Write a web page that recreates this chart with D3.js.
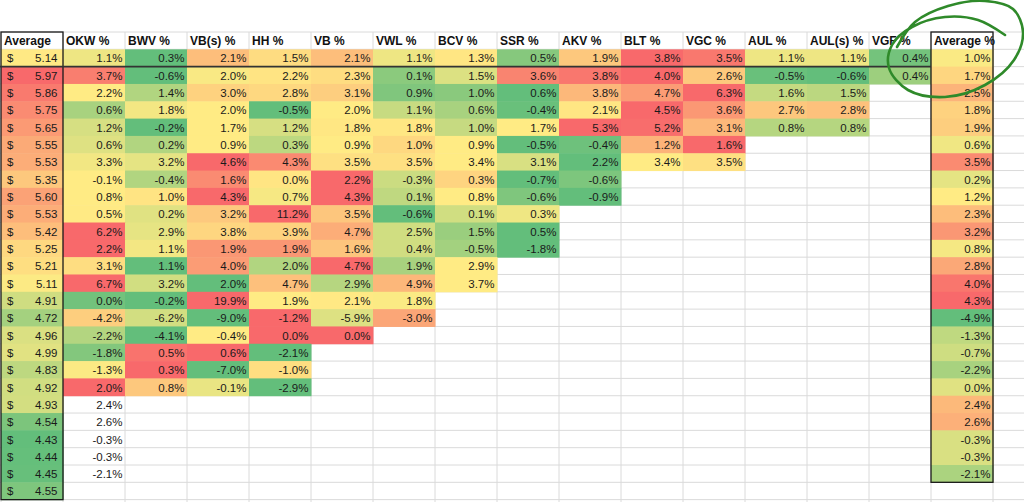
<!DOCTYPE html>
<html>
<head>
<meta charset="utf-8">
<script src="https://cdn.jsdelivr.net/npm/d3@7"></script>
<style>
  body { margin: 0; background: #fff; }
  svg { display: block; font-family: "Liberation Sans", Arial, sans-serif; }
</style>
</head>
<body>
<svg id="sheet" width="1024" height="502"></svg>
<script>
// column headers (the middle ones are the % series)
let headers = ["Average", "OKW %", "BWV %", "VB(s) %", "HH %", "VB %", "VWL %", "BCV %", "SSR %", "AKV %", "BLT %", "VGC %", "AUL %", "AUL(s) %", "VGF %", "Average %"];

let avgPrice = [5.14, 5.97, 5.86, 5.75, 5.65, 5.55, 5.53, 5.35, 5.60, 5.53, 5.42, 5.25, 5.21, 5.11, 4.91, 4.72, 4.96, 4.99, 4.83, 4.92, 4.93, 4.54, 4.43, 4.44, 4.45, 4.55];

// one list per series, read top down
let okw  = [1.1, 3.7, 2.2, 0.6, 1.2, 0.6, 3.3, -0.1, 0.8, 0.5, 6.2, 2.2, 3.1, 6.7, 0.0, -4.2, -2.2, -1.8, -1.3, 2.0, 2.4, 2.6, -0.3, -0.3, -2.1];
let bwv  = [0.3, -0.6, 1.4, 1.8, -0.2, 0.2, 3.2, -0.4, 1.0, 0.2, 2.9, 1.1, 1.1, 3.2, -0.2, -6.2, -4.1, 0.5, 0.3, 0.8];
let vbs  = [2.1, 2.0, 3.0, 2.0, 1.7, 0.9, 4.6, 1.6, 4.3, 3.2, 3.8, 1.9, 4.0, 2.0, 19.9, -9.0, -0.4, 0.6, -7.0, -0.1];
let hh   = [1.5, 2.2, 2.8, -0.5, 1.2, 0.3, 4.3, 0.0, 0.7, 11.2, 3.9, 1.9, 2.0, 4.7, 1.9, -1.2, 0.0, -2.1, -1.0, -2.9];
let vb   = [2.1, 2.3, 3.1, 2.0, 1.8, 0.9, 3.5, 2.2, 4.3, 3.5, 4.7, 1.6, 4.7, 2.9, 2.1, -5.9, 0.0];
let vwl  = [1.1, 0.1, 0.9, 1.1, 1.8, 1.0, 3.5, -0.3, 0.1, -0.6, 2.5, 0.4, 1.9, 4.9, 1.8, -3.0];
let bcv  = [1.3, 1.5, 1.0, 0.6, 1.0, 0.9, 3.4, 0.3, 0.8, 0.1, 1.5, -0.5, 2.9, 3.7];
let ssr  = [0.5, 3.6, 0.6, -0.4, 1.7, -0.5, 3.1, -0.7, -0.6, 0.3, 0.5, -1.8];
let akv  = [1.9, 3.8, 3.8, 2.1, 5.3, -0.4, 2.2, -0.6, -0.9];
let blt  = [3.8, 4.0, 4.7, 4.5, 5.2, 1.2, 3.4];
let vgc  = [3.5, 2.6, 6.3, 3.6, 3.1, 1.6, 3.5];
let aul  = [1.1, -0.5, 1.6, 2.7, 0.8];
let auls = [1.1, -0.6, 1.5, 2.8, 0.8];
let vgf  = [0.4, 0.4];

let avgPct = [1.0, 1.7, 2.5, 1.8, 1.9, 0.6, 3.5, 0.2, 1.2, 2.3, 3.2, 0.8, 2.8, 4.0, 4.3, -4.9, -1.3, -0.7, -2.2, 0.0, 2.4, 2.6, -0.3, -0.3, -2.1];

let series = [okw, bwv, vbs, hh, vb, vwl, bcv, ssr, akv, blt, vgc, aul, auls, vgf];

// excel style 3 colour scale
let green = "#63BE7B", yellow = "#FFEB84", red = "#F8696B";
function colorScale(vals) {
    let s = vals.slice().sort(d3.ascending);
    return d3.scaleLinear()
        .domain([s[0], d3.median(s), s[s.length - 1]])
        .range([green, yellow, red])
        .interpolate(d3.interpolateRgb)
        .clamp(true);
}

let svg = d3.select("#sheet");
let W = 1024, H = 502;
let colW = 62, rowH = 17.32, gridTop = 32;

let x = d3.scaleBand().domain(d3.range(headers.length + 1)).range([1, 1 + colW * (headers.length + 1)]);
let y = d3.scaleBand().domain(d3.range(-1, avgPrice.length + 1)).range([gridTop, gridTop + rowH * (avgPrice.length + 2)]);

// grid lines
let grid = svg.append("g").attr("stroke", "#dadada").attr("stroke-width", 1);
for (let i = 0; i <= headers.length + 1; i++) {
    grid.append("line").attr("x1", x(0) + i * colW).attr("x2", x(0) + i * colW).attr("y1", gridTop).attr("y2", H);
}
for (let r = 0; r <= avgPrice.length + 1; r++) {
    grid.append("line").attr("x1", 0).attr("x2", W).attr("y1", gridTop + r * rowH).attr("y2", gridTop + r * rowH);
}

// build cells
let cells = [];
let priceColor = colorScale(avgPrice);
avgPrice.forEach(function(v, r) {
    cells.push({ c: 0, r: r, v: v, fill: priceColor(v), kind: "price" });
});
avgPrice.forEach(function(v, r) {
    let row = series.map(function(s) { return s[r]; }).filter(function(d) { return d !== undefined; });
    let sc = row.length > 1 ? colorScale(row) : null;
    series.forEach(function(s, c) {
        if (s[r] === undefined) return;
        cells.push({ c: c + 1, r: r, v: s[r], fill: sc ? sc(s[r]) : null, kind: "pct" });
    });
});
let pctColor = colorScale(avgPct);
avgPct.forEach(function(v, r) {
    cells.push({ c: headers.length - 1, r: r, v: v, fill: pctColor(v), kind: "pct" });
});

svg.append("g").selectAll("rect")
    .data(cells.filter(function(d) { return d.fill; }))
    .join("rect")
    .attr("x", function(d) { return x(d.c); })
    .attr("y", function(d) { return y(d.r); })
    .attr("width", x.bandwidth() + 0.5)
    .attr("height", y.bandwidth() + 0.5)
    .attr("fill", function(d) { return d.fill; });

// header labels
svg.append("g").selectAll("text")
    .data(headers)
    .join("text")
    .attr("x", function(d, i) { return x(i) + 3; })
    .attr("y", y(-1) + y.bandwidth() / 2 + 4.5)
    .attr("font-size", 12)
    .attr("font-weight", "bold")
    .attr("fill", "#111")
    .text(function(d) { return d; });

// values (plain hyphen minus like the sheet)
let txt = svg.append("g").attr("font-size", 11.5).attr("fill", "#1a1a1a");
txt.selectAll("text.v")
    .data(cells)
    .join("text")
    .attr("class", "v")
    .attr("text-anchor", "end")
    .attr("x", function(d) { return x(d.c) + colW - (d.kind == "price" ? 5.5 : 2.5); })
    .attr("y", function(d) { return y(d.r) + y.bandwidth() / 2 + 4.5; })
    .text(function(d) { return d.kind == "price" ? d.v.toFixed(2) : d.v.toFixed(1) + "%"; });
txt.selectAll("text.dollar")
    .data(avgPrice)
    .join("text")
    .attr("class", "dollar")
    .attr("x", x(0) + 6)
    .attr("y", function(d, r) { return y(r) + y.bandwidth() / 2 + 4.5; })
    .text("$");

// borders
let borders = svg.append("g").attr("fill", "none").attr("stroke", "#1a1a1a").attr("stroke-width", 1.3);
borders.append("rect")
    .attr("x", x(0)).attr("y", gridTop)
    .attr("width", colW).attr("height", y(avgPrice.length - 1) + y.bandwidth() - gridTop);
borders.append("rect")
    .attr("x", x(headers.length - 1)).attr("y", gridTop)
    .attr("width", colW).attr("height", y(avgPct.length - 1) + y.bandwidth() - gridTop);
borders.append("line")
    .attr("x1", 0).attr("x2", x(headers.length - 1))
    .attr("y1", y(1)).attr("y2", y(1))
    .attr("stroke", "#333").attr("stroke-width", 1.6);

// hand drawn ring around the VGF values
let ring = [[897, 47], [915, 22], [948, 6], [985, 1], [1013, 9], [1023, 32], [1014, 60], [985, 85], [945, 97], [908, 90], [889, 68], [892, 45], [912, 27], [945, 17], [978, 20], [1005, 35]];
svg.append("path")
    .attr("d", d3.line().curve(d3.curveCatmullRom.alpha(0.5))(ring))
    .attr("fill", "none")
    .attr("stroke", "#2f8a2a")
    .attr("stroke-width", 2.6)
    .attr("stroke-linecap", "round");
</script>
</body>
</html>
